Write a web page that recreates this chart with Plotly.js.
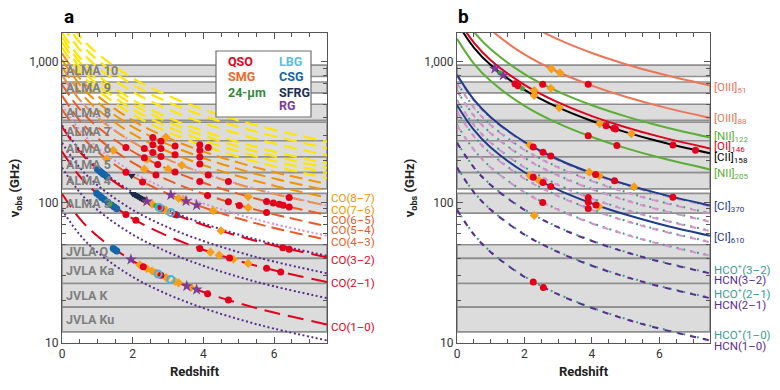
<!DOCTYPE html>
<html><head><meta charset="utf-8">
<script src="https://cdn.plot.ly/plotly-3.0.1.min.js"></script>
<style>html,body{margin:0;padding:0;background:#fff}#c{width:780px;height:390px}</style>
</head><body><div id="c"></div>
<script>
// redshift grid at which each track is read
const zGrid = [0, 0.5, 1, 2, 3, 4, 5, 6, 7.5];
// ---- panel a : CO ladder (GHz) ----
const co10 = [115.3, 76.85, 57.64, 38.42, 28.82, 23.05, 19.21, 16.47, 13.56];
const co21 = [230.5, 153.7, 115.3, 76.85, 57.64, 46.11, 38.42, 32.93, 27.12];
const co32 = [345.8, 230.5, 172.9, 115.3, 86.45, 69.16, 57.63, 49.40, 40.68];
const co43 = [461.0, 307.4, 230.5, 153.7, 115.3, 92.21, 76.84, 65.86, 54.24];
const co54 = [576.3, 384.2, 288.1, 192.1, 144.1, 115.3, 96.05, 82.32, 67.80];
const co65 = [691.5, 461.0, 345.7, 230.5, 172.9, 138.3, 115.2, 98.78, 81.35];
const co76 = [806.7, 537.8, 403.3, 268.9, 201.7, 161.3, 134.4, 115.2, 94.90];
const co87 = [921.8, 614.5, 460.9, 307.3, 230.5, 184.4, 153.6, 131.7, 108.4];
const co98 = [1037, 691.3, 518.5, 345.6, 259.2, 207.4, 172.8, 148.1, 122.0];
const co109 = [1152, 768.0, 576.0, 384.0, 288.0, 230.4, 192.0, 164.6, 135.5];
const co1110 = [1267, 844.7, 633.5, 422.3, 316.8, 253.4, 211.2, 181.0, 149.1];
const co1211 = [1382, 921.3, 691.0, 460.7, 345.5, 276.4, 230.3, 197.4, 162.6];
const co1312 = [1497, 998.0, 748.5, 499.0, 374.2, 299.4, 249.5, 213.8, 176.1];
const co1413 = [1612, 1074.5, 805.9, 537.3, 402.9, 322.4, 268.6, 230.3, 189.6];
const co1615 = [1841, 1227.6, 920.7, 613.8, 460.3, 368.3, 306.9, 263.1, 216.6];
const co1817 = [2071, 1380, 1035, 690.2, 517.7, 414.1, 345.1, 295.8, 243.6];
const co2019 = [2300, 1533, 1150, 766.5, 574.9, 459.9, 383.3, 328.5, 270.5];
// HCN and HCO+ ladders
const hcn1 = [88.63, 59.09, 44.32, 29.54, 22.16, 17.73, 14.77, 12.66, 10.43];
const hcn2 = [177.3, 118.2, 88.63, 59.09, 44.32, 35.45, 29.54, 25.32, 20.85];
const hcn3 = [265.9, 177.3, 132.9, 88.63, 66.47, 53.18, 44.32, 37.98, 31.28];
const hcn4 = [354.5, 236.3, 177.3, 118.2, 88.63, 70.90, 59.09, 50.64, 41.71];
const hcn5 = [443.1, 295.4, 221.6, 147.7, 110.8, 88.62, 73.85, 63.30, 52.13];
const hcn6 = [531.7, 354.5, 265.9, 177.2, 132.9, 106.3, 88.62, 75.96, 62.56];
const hcn7 = [620.3, 413.5, 310.2, 206.8, 155.1, 124.1, 103.4, 88.61, 72.98];
const hcn8 = [708.9, 472.6, 354.4, 236.3, 177.2, 141.8, 118.1, 101.3, 83.40];
const hcn9 = [797.4, 531.6, 398.7, 265.8, 199.4, 159.5, 132.9, 113.9, 93.82];
const hco1 = [89.19, 59.46, 44.60, 29.73, 22.30, 17.84, 14.87, 12.74, 10.49];
const hco2 = [178.4, 118.9, 89.19, 59.46, 44.60, 35.68, 29.73, 25.48, 20.99];
const hco3 = [267.6, 178.4, 133.8, 89.19, 66.89, 53.51, 44.59, 38.22, 31.48];
const hco4 = [356.7, 237.8, 178.4, 118.9, 89.18, 71.35, 59.46, 50.96, 41.97];
const hco5 = [445.9, 297.3, 223.0, 148.6, 111.5, 89.18, 74.32, 63.70, 52.46];
const hco6 = [535.1, 356.7, 267.5, 178.4, 133.8, 107.0, 89.18, 76.44, 62.95];
const hco7 = [624.2, 416.1, 312.1, 208.1, 156.1, 124.8, 104.0, 89.17, 73.44];
const hco8 = [713.3, 475.6, 356.7, 237.8, 178.3, 142.7, 118.9, 101.9, 83.92];
const hco9 = [802.5, 535.0, 401.2, 267.5, 200.6, 160.5, 133.7, 114.6, 94.41];
// fine-structure lines
const ci610 = [492.2, 328.1, 246.1, 164.1, 123.0, 98.43, 82.03, 70.31, 57.90];
const ci370 = [809.3, 539.6, 404.7, 269.8, 202.3, 161.9, 134.9, 115.6, 95.22];
const oiii51 = [5786, 3857, 2893, 1929, 1446, 1157, 964.3, 826.6, 680.7];
const oiii88 = [3393, 2262, 1697, 1131, 848.3, 678.6, 565.5, 484.7, 399.2];
const nii122 = [2459, 1640, 1230, 819.8, 614.8, 491.9, 409.9, 351.3, 289.3];
const oi146 = [2060, 1373, 1030, 686.7, 515.0, 412.0, 343.3, 294.3, 242.4];
const cii158 = [1901, 1267, 950.3, 633.5, 475.1, 380.1, 316.8, 271.5, 223.6];
const nii205 = [1461, 974.1, 730.6, 487.0, 365.3, 292.2, 243.5, 208.7, 171.9];

// ---- detections, panel a ----
const qsoA_z = [2.57,2.57,2.57,2.80,2.80,2.80,2.33,2.33,1.81,3.2,3.2,3.9,3.9,3.9,3.9,4.14,4.14,3.9,4.71,1.81,2.28,2.66,2.71,4.12,4.71,6.43,5.79,5.98,6.15,6.26,6.43,5.79,3.9,4.74,5.79,6.19,6.25,6.43,2.09,1.81,2.30,2.80,4.12,4.71,2.80,3.2,3.2,5.02];
const qsoA_nu = [290,258,227,273,242,212,242,208,246,252,219,258,235,211,188,246,157,141,141,164,140,157,186,112,101,108.6,101.8,99,97,95.6,93,84.9,47,40.2,34,32,47.7,46.5,74.6,82,34.9,30.3,22.4,20.2,91,82,164.6,95.3];
const smgA_z = [2.94,1.26,2.33,3.39,1.45,2.35,2.9,5.27,5.27,4.28,4.85,5.27,2.2,2.4,2.55,2.65,2.95,3.2,3.3,3.65,4.2,2.55,2.95,3.3,3.45,2.4,3.0,4.5,4.45];
const smgA_nu = [292,204,173,184,235,103,88.7,110,91.9,87.3,39.4,36.8,36.0,33.9,32.5,31.6,29.2,27.4,26.8,24.8,44.3,97.4,87.5,107,103.6,203,173,62.9,42.3];
const lbgA_z = [2.72,3.08,2.75,3.08];
const lbgA_nu = [31.0,28.3,92.2,84.8];
const csgA_z = [1.0,1.05,1.1,1.15,1.2,1.28,0.98,1.05,1.12,1.2,1.3,1.4,1.48,1.55,1.45,1.5,1.55,3.25];
const csgA_nu = [172.9,168.7,164.7,160.8,157.2,151.7,116.4,112.5,108.7,104.8,100.2,96.1,93,90.4,47,46.1,45.2,81.4];
const sfrgA_z = [2.0,2.05,2.1,2.15,2.2,2.25,2.3,1.97];
const sfrgA_nu = [115.3,113.4,111.5,109.8,108.1,106.4,104.8,155.2];
const irA_z = [1.36,2.65];
const irA_nu = [97.7,94.7];
const rgA_z = [1.95,3.53,3.81,2.4,3.08,3.51,3.81];
const rgA_nu = [39.3,25.4,24.0,101.7,113.0,102.2,95.8];
// ---- detections, panel b ----
const qsoB_z = [1.72,1.81,2.54,3.89,4.42,4.65,4.7,3.89,4.74,6.4,7.07,2.26,2.55,2.78,4.11,4.67,6.4,2.26,2.55,2.78,3.89,3.89,3.89,4.12,2.54,2.26,2.56];
const qsoB_nu = [699,676,695,694,351,337,333,299,254.5,256.8,235.5,248,228,214,158,142.7,109,151,138.6,130,100.6,108.7,90.6,96.1,100,27.2,24.8];
const smgB_z = [2.80,3.05,2.29,2.78,2.29,3.03,4.23,5.17,2.16,3.92,4.22,5.25,2.16,2.29,4.2,2.43];
const smgB_nu = [893,838,626,650,578,472,363,308,256,164.5,155,129.5,155.7,80.8,93.8,143.5];
const rgB_z = [1.12,1.37];
const rgB_nu = [896,802];
const irB_z = [1.27,1.94];
const irB_nu = [837,646];

// ---- observing bands (GHz) ----
const bandNames = ['ALMA 10','ALMA 9','ALMA 8','ALMA 7','ALMA 6','ALMA 5','ALMA 4','ALMA 3','JVLA Q','JVLA Ka','JVLA K','JVLA Ku'];
const bandLo = [787, 602, 385, 275, 211, 163, 125, 84, 40, 26.5, 18, 12];
const bandHi = [950, 720, 500, 373, 275, 211, 163, 116, 50, 40, 26.5, 18];

const RED='#e3001b', OR='#ea5a24', ORG='#f39200', YEL='#ffe600', PUR='#5c2d91', PINK='#d790cf',
      TEAL='#3a9d8c', SAL='#ee7457', GRN='#5aae34', NAVY='#1f3b8c';
const traces = [];
function track(ax, vals, color, dash, width){
  traces.push({x: zGrid, y: vals, xaxis: ax==='a'?'x':'x2', yaxis: ax==='a'?'y':'y2', mode:'lines',
    line:{color:color, dash:dash, width:width, shape:'spline', smoothing:1}, hoverinfo:'skip', showlegend:false});
}
function pts(ax, xs, ys, color, symbol, size, open){
  traces.push({x: xs, y: ys, xaxis: ax==='a'?'x':'x2', yaxis: ax==='a'?'y':'y2', mode:'markers',
    marker: open ? {color:'rgba(0,0,0,0)', symbol:symbol, size:size, line:{color:color, width:2}}
                 : {color:color, symbol:symbol, size:size, line:{width:0}}, showlegend:false});
}
// panel a tracks
[co2019,co1817,co1615,co1413,co1312,co1211,co1110].forEach(v=>track('a',v,YEL,'13px,7px',2.2));
[co109,co98,co87,co76].forEach(v=>track('a',v,ORG,'13px,6px',2));
[co65,co54,co43].forEach(v=>track('a',v,OR,'13px,6px',2));
[ci370,ci610].forEach(v=>track('a',v,PINK,'2px,2.5px',2));
[hcn1,hcn2,hcn3,hcn4].forEach(v=>track('a',v,PUR,'2px,2.5px',2));
[co32,co21,co10].forEach(v=>track('a',v,RED,'16px,8px',2));
// panel b tracks
[hco4,hco5,hco6,hco7,hco8,hco9].forEach(v=>track('b',v,TEAL,'2px,5px',2));
[hcn4,hcn5,hcn6,hcn7,hcn8,hcn9].forEach(v=>track('b',v,PINK,'6px,7px',2));
[hco1,hco2,hco3].forEach(v=>track('b',v,TEAL,'2px,5px',2));
[hcn1,hcn2,hcn3].forEach(v=>track('b',v,PUR,'6px,7px',2));
track('b',ci610,NAVY,'solid',2); track('b',ci370,NAVY,'solid',2);
track('b',nii205,GRN,'solid',2); track('b',nii122,GRN,'solid',2);
track('b',cii158,'#000','solid',2); track('b',oi146,RED,'solid',2);
track('b',oiii88,SAL,'solid',2); track('b',oiii51,SAL,'solid',2);
// markers
pts('a',smgA_z,smgA_nu,'#f6a01a','diamond',7);
pts('a',csgA_z,csgA_nu,'#1565a8','circle',7);
pts('a',sfrgA_z,sfrgA_nu,'#1b2a4a','triangle-down',7);
pts('a',qsoA_z,qsoA_nu,RED,'circle',7);
pts('a',irA_z,irA_nu,'#3aa935','circle',5);
pts('a',lbgA_z,lbgA_nu,'#45b3e0','circle',7,true);
pts('a',rgA_z,rgA_nu,'#7b3c98','star',9);
pts('b',smgB_z,smgB_nu,'#f6a01a','diamond',7);
pts('b',qsoB_z,qsoB_nu,RED,'circle',7);
pts('b',irB_z,irB_nu,'#3aa935','circle',5);
pts('b',rgB_z,rgB_nu,'#7b3c98','star',9);

// shapes: bands in both panels
const shapes = [];
['a','b'].forEach(p=>{
  bandLo.forEach((lo,i)=>{
    shapes.push({type:'rect', layer:'below', xref:p==='a'?'x':'x2', yref:p==='a'?'y':'y2',
      x0:0, x1:7.5, y0:lo, y1:bandHi[i], fillcolor:'#dcdcdc', line:{color:'#8f8f8f', width:1.6}});
  });
});
// legend box
shapes.push({type:'rect', xref:'paper', yref:'paper', x0:216/780, x1:311/780, y0:1-117/390, y1:1-51/390,
  fillcolor:'#fff', line:{color:'#707070', width:1.2}});

const F = 'Roboto, "Open Sans", sans-serif';
const ann = [];
const bandLabelY = [2.937,2.818,2.642,2.505,2.382,2.268,2.155,1.994,1.650,1.513,1.338,1.167];
bandNames.forEach((n,i)=>ann.push({xref:'x', yref:'y', x:0.06, y:bandLabelY[i], text:'<b>'+n+'</b>',
  showarrow:false, xanchor:'left', yanchor:'middle', font:{family:F, size:12.5, color:'#7f7f7f'}}));
const labA = [['CO(8–7)',2.030,ORG],['CO(7–6)',1.945,ORG],['CO(6–5)',1.877,OR],['CO(5–4)',1.805,OR],
  ['CO(4–3)',1.716,OR],['CO(3–2)',1.589,RED],['CO(2–1)',1.426,RED],['CO(1–0)',1.113,RED]];
labA.forEach(l=>ann.push({xref:'x', yref:'y', x:7.5, y:l[1], text:l[0], showarrow:false, xanchor:'left',
  xshift:2, yanchor:'middle', font:{family:F, size:11.5, color:l[2]}}));
const labB = [['[OIII]<sub>51</sub>',2.816,SAL],['[OIII]<sub>88</sub>',2.596,SAL],['[NII]<sub>122</sub>',2.466,GRN],
  ['[OI]<sub>146</sub>',2.395,RED],['[CII]<sub>158</sub>',2.318,'#000'],['[NII]<sub>205</sub>',2.206,GRN],
  ['[CI]<sub>370</sub>',1.972,NAVY],['[CI]<sub>610</sub>',1.752,NAVY],
  ['HCO<sup>+</sup>(3–2)',1.525,TEAL],['HCN(3–2)',1.447,PUR],['HCO<sup>+</sup>(2–1)',1.355,TEAL],
  ['HCN(2–1)',1.270,PUR],['HCO<sup>+</sup>(1–0)',1.057,TEAL]];
labB.forEach(l=>ann.push({xref:'x2', yref:'y2', x:7.5, y:l[1], text:l[0], showarrow:false, xanchor:'left',
  xshift:2, yanchor:'middle', font:{family:F, size:11.5, color:l[2]}}));
ann.push({xref:'x2', yref:'y2', x:7.5, y:1.0, text:'HCN(1–0)', showarrow:false, xanchor:'left',
  xshift:2, yshift:-3, yanchor:'middle', font:{family:F, size:11.5, color:PUR}});
const legItems = [['QSO',226,62,RED],['SMG',226,77,'#ec6a2c'],['24-µm',226,92,'#2e8b3a'],
  ['LBG',277,62,'#5bbde8'],['CSG',277,77,'#1166aa'],['SFRG',277,92,'#1d2f55'],['RG',277,106,'#7b3c98']];
legItems.forEach(l=>ann.push({xref:'paper', yref:'paper', x:l[1]/780, y:1-l[2]/390, text:'<b>'+l[0]+'</b>',
  showarrow:false, xanchor:'left', yanchor:'middle', font:{family:F, size:12.5, color:l[3]}}));
ann.push({xref:'paper', yref:'paper', x:62/780, y:1-17/390, text:'<b>a</b>', showarrow:false, xanchor:'left',
  yanchor:'middle', font:{family:F, size:19, color:'#000'}});
ann.push({xref:'paper', yref:'paper', x:456/780, y:1-17/390, text:'<b>b</b>', showarrow:false, xanchor:'left',
  yanchor:'middle', font:{family:F, size:19, color:'#000'}});

const yMinor = [20,30,40,50,60,70,80,90,200,300,400,500,600,700,800,900];
function xax(dom){ return {domain:dom, range:[0,7.5], tickvals:[0,2,4,6], ticks:'inside', ticklen:6, tickcolor:'#555',
  showline:true, linecolor:'#555', linewidth:1, mirror:'ticks', showgrid:false, zeroline:false,
  minor:{tickvals:[0.5,1,1.5,2.5,3,3.5,4.5,5,5.5,6.5,7], ticks:'inside', ticklen:4, tickcolor:'#555', showgrid:false},
  tickfont:{family:F, size:12, color:'#333'},
  title:{text:'<b>Redshift</b>', font:{family:F, size:13, color:'#222'}, standoff:6}}; }
function yax(anchor){ return {domain:[1-343/390, 1-33/390], type:'log', range:[1,3.206], anchor:anchor,
  tickvals:[10,100,1000], ticktext:['10','100','1,000'], ticks:'inside', ticklen:6, tickcolor:'#555',
  showline:true, linecolor:'#555', linewidth:1, mirror:'ticks', showgrid:false, zeroline:false,
  minor:{tickvals:yMinor, ticks:'inside', ticklen:4, tickcolor:'#555', showgrid:false},
  tickfont:{family:F, size:12, color:'#333'},
  title:{text:'<b>ν<sub>obs</sub> (GHz)</b>', font:{family:F, size:13, color:'#222'}, standoff:6}}; }
const layout = {width:780, height:390, margin:{l:0,r:0,t:0,b:0}, paper_bgcolor:'#fff', plot_bgcolor:'#fff',
  showlegend:false, xaxis:Object.assign(xax([62/780,327/780]),{anchor:'y'}), yaxis:yax('x'),
  xaxis2:Object.assign(xax([457/780,710/780]),{anchor:'y2'}), yaxis2:yax('x2'),
  shapes:shapes, annotations:ann};
Plotly.newPlot('c', traces, layout, {staticPlot:true});
</script></body></html>
